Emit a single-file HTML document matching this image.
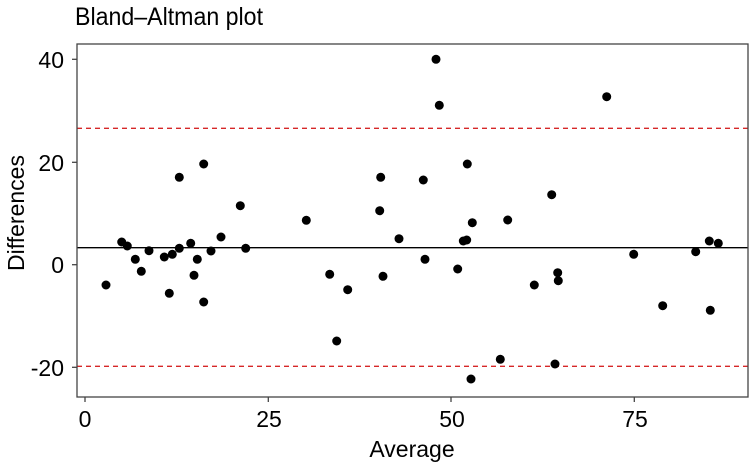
<!DOCTYPE html>
<html><head><style>body{margin:0;background:#fff}svg{display:block}text{font-family:"Liberation Sans",sans-serif;fill:#000}</style></head><body>
<svg width="752" height="470" xmlns="http://www.w3.org/2000/svg">
<text x="75" y="25" font-size="25" textLength="188" lengthAdjust="spacingAndGlyphs">Bland–Altman plot</text>
<line x1="77" y1="128.3" x2="748" y2="128.3" stroke="#d62728" stroke-width="1.3" stroke-dasharray="5,4"/>
<line x1="77" y1="366.3" x2="748" y2="366.3" stroke="#d62728" stroke-width="1.3" stroke-dasharray="5,4"/>
<line x1="77" y1="247.7" x2="748" y2="247.7" stroke="#000" stroke-width="1.3"/>
<g fill="#000">
<circle cx="106" cy="285" r="4.5"/><circle cx="121.7" cy="242" r="4.5"/><circle cx="127.3" cy="246" r="4.5"/><circle cx="135.3" cy="259.3" r="4.5"/><circle cx="141.3" cy="271.3" r="4.5"/><circle cx="149" cy="250.7" r="4.5"/><circle cx="164.3" cy="257" r="4.5"/><circle cx="172.3" cy="254.3" r="4.5"/><circle cx="169.3" cy="293.3" r="4.5"/><circle cx="179.3" cy="177.3" r="4.5"/><circle cx="179.3" cy="248.3" r="4.5"/><circle cx="190.7" cy="243.3" r="4.5"/><circle cx="197.3" cy="259.3" r="4.5"/><circle cx="194" cy="275.3" r="4.5"/><circle cx="203.7" cy="164" r="4.5"/><circle cx="203.7" cy="302" r="4.5"/><circle cx="211" cy="251" r="4.5"/><circle cx="221" cy="237" r="4.5"/><circle cx="240.3" cy="205.7" r="4.5"/><circle cx="245.7" cy="248.3" r="4.5"/><circle cx="306.3" cy="220.3" r="4.5"/><circle cx="329.7" cy="274.3" r="4.5"/><circle cx="347.7" cy="289.7" r="4.5"/><circle cx="336.7" cy="341" r="4.5"/><circle cx="379.7" cy="210.7" r="4.5"/><circle cx="380.7" cy="177.3" r="4.5"/><circle cx="383" cy="276.3" r="4.5"/><circle cx="399" cy="238.7" r="4.5"/>
<circle cx="436" cy="59.3" r="4.5"/><circle cx="439.3" cy="105.3" r="4.5"/><circle cx="423.3" cy="180" r="4.5"/><circle cx="425" cy="259.3" r="4.5"/><circle cx="467.3" cy="164" r="4.5"/><circle cx="472.3" cy="222.7" r="4.5"/><circle cx="463.3" cy="241" r="4.5"/><circle cx="466.7" cy="240" r="4.5"/><circle cx="457.7" cy="269" r="4.5"/><circle cx="507.7" cy="220" r="4.5"/><circle cx="551.7" cy="194.7" r="4.5"/><circle cx="534.3" cy="285" r="4.5"/><circle cx="557.7" cy="272.7" r="4.5"/><circle cx="558.3" cy="280.7" r="4.5"/><circle cx="500.3" cy="359.3" r="4.5"/><circle cx="555" cy="364" r="4.5"/><circle cx="471" cy="379" r="4.5"/><circle cx="606.7" cy="96.7" r="4.5"/><circle cx="633.7" cy="254.3" r="4.5"/><circle cx="662.7" cy="305.7" r="4.5"/><circle cx="695.7" cy="251.7" r="4.5"/><circle cx="709.3" cy="241" r="4.5"/><circle cx="718.3" cy="243.3" r="4.5"/><circle cx="710.3" cy="310.3" r="4.5"/>
</g>
<rect x="77" y="44" width="671" height="353" fill="none" stroke="#444" stroke-width="1.3"/>
<g stroke="#444" stroke-width="1.3">
<line x1="72" y1="59.3" x2="77" y2="59.3"/><line x1="72" y1="162.3" x2="77" y2="162.3"/><line x1="72" y1="264.7" x2="77" y2="264.7"/><line x1="72" y1="367.3" x2="77" y2="367.3"/>
<line x1="85" y1="397" x2="85" y2="402"/><line x1="268.3" y1="397" x2="268.3" y2="402"/><line x1="451" y1="397" x2="451" y2="402"/><line x1="634.3" y1="397" x2="634.3" y2="402"/>
</g>
<g font-size="23" text-anchor="end">
<text x="64" y="68">40</text><text x="64" y="171">20</text><text x="64" y="273">0</text><text x="64" y="376">-20</text>
</g>
<g font-size="23" text-anchor="middle">
<text x="85" y="427">0</text><text x="269" y="427">25</text><text x="452" y="427">50</text><text x="635" y="427">75</text>
</g>
<text x="412" y="457" font-size="23" text-anchor="middle">Average</text>
<text transform="translate(24,213) rotate(-90)" font-size="23" text-anchor="middle">Differences</text>
</svg>
</body></html>
